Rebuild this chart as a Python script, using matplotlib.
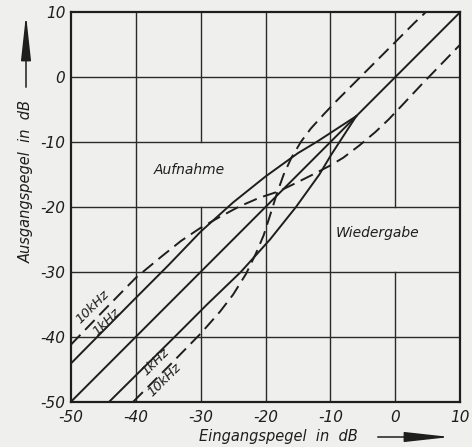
import numpy as np
import matplotlib.pyplot as plt
from matplotlib.patches import FancyArrowPatch

# Eingangspegel -> Ausgangspegel (dB)
# Aufnahme (recording), 1 kHz
rec_1k_x = [-50, -40, -35, -30, -25, -20, -15, -12, -10, -8, -6]
rec_1k_y = [-44.1, -34.0, -29.0, -23.8, -19.3, -15.3, -11.7, -9.9, -8.6, -7.3, -6.0]
# Aufnahme, 10 kHz
rec_10k_x = [-50, -45, -40, -36, -33, -30, -27, -24, -21, -18, -15.5, -12.5,
             -10, -8, -5.5, -3, -1, 1, 4, 7, 10]
rec_10k_y = [-41.2, -36.0, -30.9, -27.6, -25.2, -23.2, -21.5, -19.9, -18.6, -17.6, -16.4, -14.9,
             -13.6, -12.4, -10.5, -8.4, -6.5, -4.4, -1.2, 1.9, 5.0]
# Wiedergabe (playback), 1 kHz
pb_1k_x = [-44.1, -34.0, -29.0, -23.8, -19.3, -15.3, -11.7, -9.9, -8.6, -7.3, -6.0]
pb_1k_y = [-50, -40, -35, -30, -25, -20, -15, -12, -10, -8, -6]
# Wiedergabe, 10 kHz
pb_10k_x = [-40.4, -35, -30, -27, -25, -23, -21.5, -20.3, -19.3, -18.2, -17.2, -16,
            -14.5, -13, -11, -9, -6, -3, 0, 3, 4.7]
pb_10k_y = [-50, -44.6, -39.5, -36.1, -33.5, -30.3, -27.2, -24.4, -21.3, -17.8, -15.0, -12.4,
            -9.9, -7.9, -5.7, -3.6, -0.6, 2.4, 5.4, 8.4, 10.0]
# linear reference
lin_x = [-50, 10]
lin_y = [-50, 10]

ticks = [-50, -40, -30, -20, -10, 0, 10]

paper = "#efefed"
ink = "#1e1e1e"

fig = plt.figure(figsize=(4.72, 4.47), dpi=100, facecolor=paper)
ax = fig.add_axes([0.1504, 0.1013, 0.8242, 0.8712], facecolor=paper)
ax.set_xlim(-50, 10)
ax.set_ylim(-50, 10)

# grid, with the gaps behind the two area labels
gap_v = {-30: (-20, -10), 0: (-30, -20)}
for t in ticks[1:-1]:
    if t in gap_v:
        lo, hi = gap_v[t]
        ax.plot([t, t], [-50, lo], color="#2a2a2a", lw=1.0)
        ax.plot([t, t], [hi, 10], color="#2a2a2a", lw=1.0)
    else:
        ax.plot([t, t], [-50, 10], color="#2a2a2a", lw=1.0)
    ax.plot([-50, 10], [t, t], color="#2a2a2a", lw=1.0)

dash = (0, (7, 3.5))
ax.plot(lin_x, lin_y, color=ink, lw=1.4)
ax.plot(rec_1k_x, rec_1k_y, color=ink, lw=1.4)
ax.plot(pb_1k_x, pb_1k_y, color=ink, lw=1.4)
ax.plot(rec_10k_x, rec_10k_y, color=ink, lw=1.4, linestyle=dash)
ax.plot(pb_10k_x, pb_10k_y, color=ink, lw=1.4, linestyle=dash)

for s in ax.spines.values():
    s.set_linewidth(1.6)
    s.set_color(ink)

ax.set_xticks(ticks)
ax.set_yticks(ticks)
ax.set_xticklabels([str(t) for t in ticks], fontsize=11, style="italic", color=ink)
ax.set_yticklabels([str(t) for t in ticks], fontsize=11, style="italic", color=ink)
ax.tick_params(length=0)
ax.tick_params(axis="y", pad=4)
ax.tick_params(axis="x", pad=6)

# curve labels
kw = dict(style="italic", fontsize=9.5, color=ink, rotation=45,
          rotation_mode="anchor", va="baseline")
ax.text(-48.5, -38.0, "10kHz", **kw)
ax.text(-46.0, -39.8, "1kHz", **kw)
ax.text(-38.4, -46.0, "1kHz", **kw)
ax.text(-37.5, -49.2, "10kHz", **kw)

ax.text(-31.8, -14.3, "Aufnahme", style="italic", fontsize=10, color=ink, ha="center", va="center")
ax.text(-2.8, -24.0, "Wiedergabe", style="italic", fontsize=10, color=ink, ha="center", va="center")

# axis titles with arrows
fig.text(278 / 472, 1 - 437 / 447, "Eingangspegel  in  dB", style="italic", fontsize=10.5,
         color=ink, ha="center", va="center")
fig.text(26 / 472, 1 - 182 / 447, "Ausgangspegel  in  dB", style="italic", fontsize=10.5,
         color=ink, ha="center", va="center", rotation=90)

arrow = dict(arrowstyle="-|>,head_length=2.0,head_width=0.22", color=ink, lw=1.1)
fig.add_artist(FancyArrowPatch((375 / 472, 1 - 437 / 447), (453 / 472, 1 - 437 / 447),
                               transform=fig.transFigure, mutation_scale=14, **arrow))
fig.add_artist(FancyArrowPatch((26 / 472, 1 - 90 / 447), (26 / 472, 1 - 12 / 447),
                               transform=fig.transFigure, mutation_scale=14, **arrow))

fig.savefig("out.png", dpi=100, facecolor=paper)
